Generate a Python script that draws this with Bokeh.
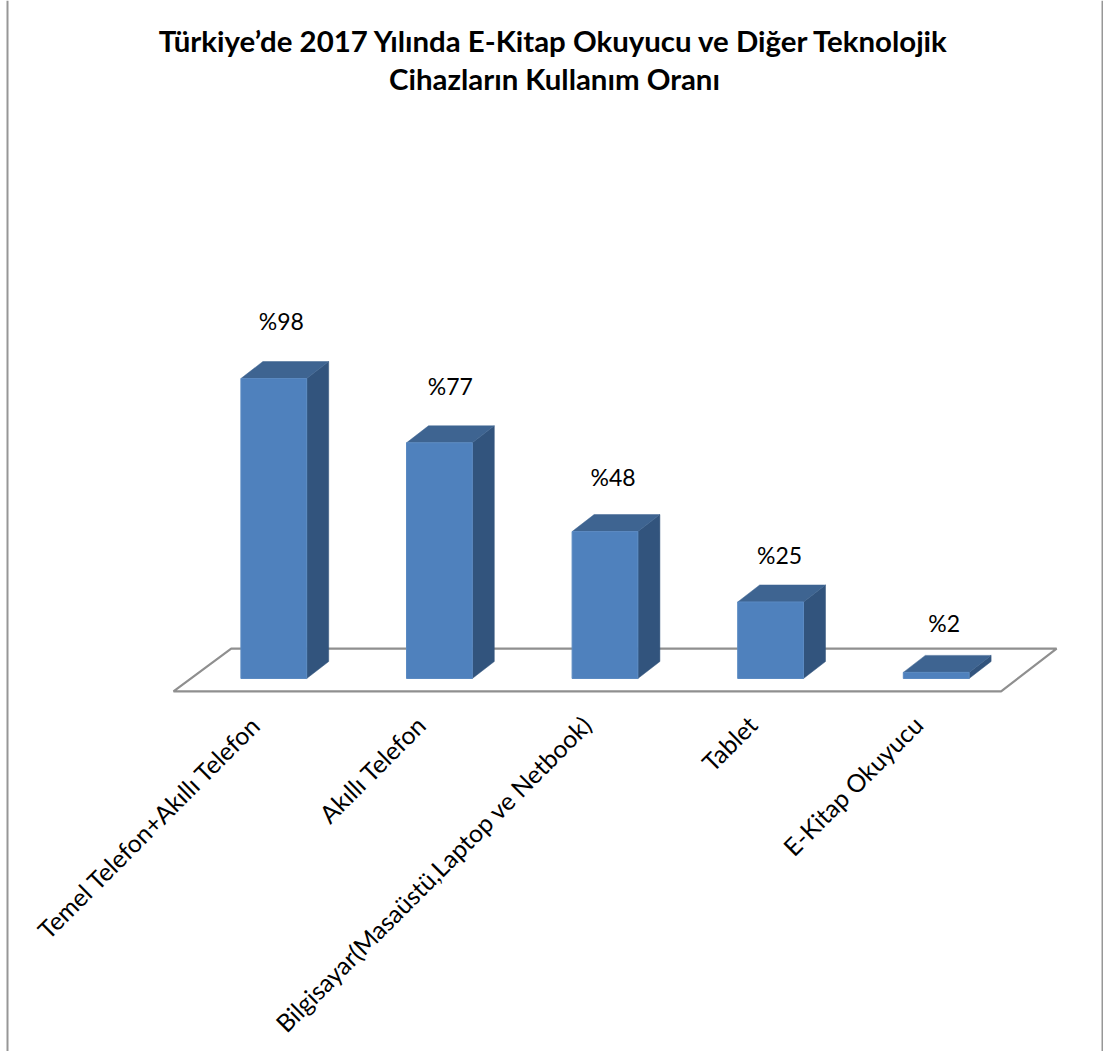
from math import pi
from bokeh.plotting import figure
from bokeh.models import ColumnDataSource, Label, Span, LinearAxis, FixedTicker, Range1d
from bokeh.core.properties import value
from bokeh.embed import file_html
from bokeh.resources import INLINE

title_lines = ["Türkiye’de 2017 Yılında E-Kitap Okuyucu ve Diğer Teknolojik",
               "Cihazların Kullanım Oranı"]
categories = ["Temel Telefon+Akıllı Telefon", "Akıllı Telefon",
              "Bilgisayar(Masaüstü,Laptop ve Netbook)", "Tablet", "E-Kitap Okuyucu"]
values = [98, 77, 48, 25, 2]
value_labels = ["%98", "%77", "%48", "%25", "%2"]

W, H = 1103, 1051
FONT = "Lato"
PX_X = 165.6          # px per category
PX_Y = 3.061          # px per percent
X0, Y0 = 273.3, 678.0 # px position of first category / of zero
DX, DY = 22 / PX_X, 17 / PX_Y   # 3D depth in data units
BW = 65.8 / PX_X
LABEL_SHIFT = 18 / PX_X

p = figure(width=W, height=H, output_backend="svg", toolbar_location=None,
           x_range=Range1d(-X0 / PX_X, (W - X0) / PX_X),
           y_range=Range1d(-(H - Y0) / PX_Y, Y0 / PX_Y),
           x_axis_location=None, y_axis_location=None,
           min_border=0, outline_line_color=None,
           background_fill_color="white",
           border_fill_color="white")
p.grid.visible = False
p.extra_x_ranges = {"labels": Range1d(-X0 / PX_X + LABEL_SHIFT, (W - X0) / PX_X + LABEL_SHIFT)}

# floor of the 3D chart
fl, fr = -100.3 / PX_X, 727.3 / PX_X
fy = -12.8 / PX_Y
p.patch([fl, fr, fr + 55.5 / PX_X, fl + 57.7 / PX_X],
        [fy, fy, fy + 42.7 / PX_Y, fy + 42.7 / PX_Y],
        fill_color="white", line_color="#8f8f8f", line_width=2.2)

idx = list(range(len(values)))
left = [i - BW / 2 for i in idx]
right = [i + BW / 2 for i in idx]

# side, top, front faces
p.patches([[r, r + DX, r + DX, r] for r in right],
          [[0, DY, v + DY, v] for v in values],
          fill_color="#32547d", line_color="#32547d", line_width=0.5)
p.patches([[l, l + DX, r + DX, r] for l, r in zip(left, right)],
          [[v, v + DY, v + DY, v] for v in values],
          fill_color="#3e6491", line_color="#3e6491", line_width=0.5)
p.vbar(x=idx, top=values, bottom=0, width=BW,
       fill_color="#4f81bd", line_color="#5b8ac2", line_width=1)

# value labels
src = ColumnDataSource(dict(x=idx, y=values, t=value_labels,
                            dx=[7.5, 11, 8, 9, 8], dy=[-58, -57, -55, -46.5, -49]))
p.text(x="x", y="y", text="t", source=src, x_offset="dx", y_offset="dy",
       text_align="center", text_baseline="middle",
       text_font=value(FONT), text_font_size="23px", text_color="#000000")

# category axis, fixed on the floor's front edge
ax = LinearAxis(ticker=FixedTicker(ticks=idx), x_range_name="labels",
                major_label_overrides={i: c for i, c in enumerate(categories)},
                fixed_location=fy,
                major_label_orientation=pi / 4,
                major_label_text_font=FONT,
                major_label_text_font_size="24.7px",
                major_label_text_color="#000000",
                major_label_standoff=23,
                axis_line_color=None, major_tick_line_color=None,
                minor_tick_line_color=None)
p.add_layout(ax, "below")

# title
for line, y in zip(title_lines, (40, 78)):
    p.add_layout(Label(x=554, y=H - y, x_units="screen", y_units="screen", text=line,
                       text_align="center", text_baseline="middle",
                       text_font=FONT, text_font_style="bold",
                       text_font_size="29.4px", text_color="#000000"))

# page frame
for loc in (7, 1102):
    p.add_layout(Span(location=loc, location_units="screen", dimension="height",
                      line_color="#979797", line_width=2))

open("out.html", "w").write(file_html(p, INLINE))
